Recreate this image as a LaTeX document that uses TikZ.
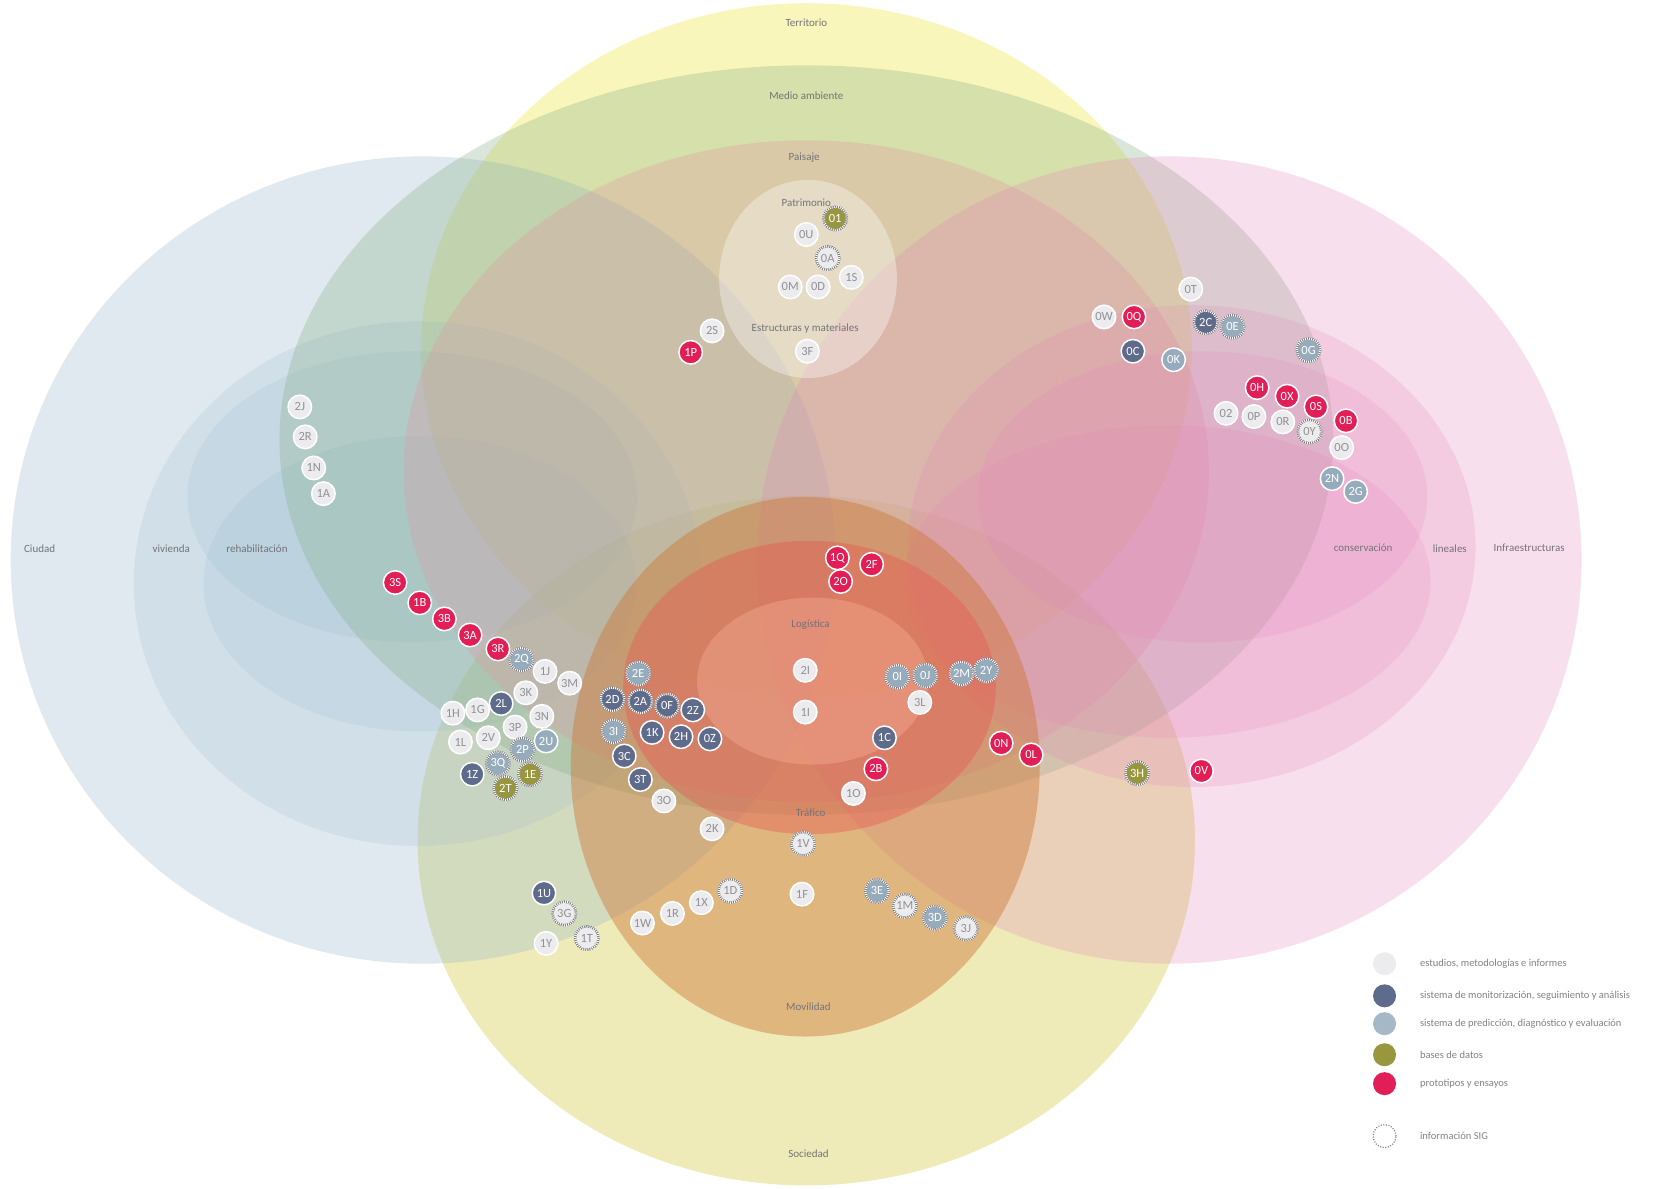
\documentclass[tikz,border=0pt]{standalone}
\usepackage{fontspec}
\setmainfont{Carlito}
\definecolor{terr}{RGB}{245,238,120}
\definecolor{soc}{RGB}{220,215,110}
\definecolor{blu}{RGB}{150,185,205}
\definecolor{pnk}{RGB}{228,130,185}
\definecolor{grn}{RGB}{135,175,135}
\definecolor{pai}{RGB}{225,150,160}
\definecolor{mov}{RGB}{205,120,55}
\definecolor{tra}{RGB}{232,85,80}
\definecolor{log}{RGB}{250,180,155}
\definecolor{lblc}{RGB}{115,115,120}
\definecolor{legc}{RGB}{130,130,135}
\definecolor{cw}{RGB}{236,236,238}
\definecolor{cwt}{RGB}{145,145,150}
\definecolor{cm}{RGB}{95,107,138}
\definecolor{cp}{RGB}{150,172,188}
\definecolor{cd}{RGB}{152,150,62}
\definecolor{cr}{RGB}{226,30,86}
\definecolor{sigring}{RGB}{120,120,125}
\begin{document}
\begin{tikzpicture}[x=1.0708pt,y=-1.0708pt,
  lbl/.style={text=lblc, font=\fontsize{11}{13}\selectfont, inner sep=0pt},
  badge/.style={circle, minimum size=23.5pt, inner sep=0pt, draw=white, line width=1.5pt, font=\fontsize{12.5}{13}\selectfont},
  bw/.style={badge, fill=cw, text=cwt},
  bm/.style={badge, fill=cm, text=white},
  bp/.style={badge, fill=cp, text=white},
  bd/.style={badge, fill=cd, text=white},
  br/.style={badge, fill=cr, text=white},
  sig/.style={draw=sigring, line width=2.3pt, postaction={draw=white, line width=2.3pt, dash pattern=on 0.9pt off 1.2pt}},
  leg/.style={text=legc, font=\fontsize{10.5}{12}\selectfont, anchor=west, inner sep=0pt},
  sw/.style={circle, minimum size=23pt, inner sep=0pt}
]
\fill[white] (0,0) rectangle (1568,1110);
\useasboundingbox (0,0) rectangle (1568,1110);
% background sets
\fill[terr, fill opacity=0.5] (753,327) ellipse [x radius=360, y radius=324];
\fill[soc, fill opacity=0.48] (753,785) ellipse [x radius=363, y radius=322];
\fill[blu, fill opacity=0.3] (395,523) ellipse [x radius=385, y radius=377];
\fill[blu, fill opacity=0.2] (390,545) ellipse [x radius=265, y radius=245];
\fill[blu, fill opacity=0.18] (385,464) ellipse [x radius=210, y radius=136];
\fill[blu, fill opacity=0.18] (392,545) ellipse [x radius=202, y radius=138];
\fill[grn, fill opacity=0.3] (753,411) ellipse [x radius=492, y radius=350];
\fill[pai, fill opacity=0.3] (753,440) ellipse [x radius=376, y radius=309];
\fill[pnk, fill opacity=0.25] (1092,523) ellipse [x radius=385, y radius=377];
\fill[pnk, fill opacity=0.2] (1113,510) ellipse [x radius=265, y radius=225];
\fill[pnk, fill opacity=0.18] (1123,464) ellipse [x radius=210, y radius=136];
\fill[pnk, fill opacity=0.18] (1090,543) ellipse [x radius=246, y radius=146];
\fill[mov, fill opacity=0.45] (752,716) ellipse [x radius=219, y radius=252];
\fill[tra, fill opacity=0.4] (756,642) ellipse [x radius=174, y radius=137];
\fill[log, fill opacity=0.35] (759,636) ellipse [x radius=108, y radius=78];
\fill[white, fill opacity=0.35] (754.6,260.5) ellipse [x radius=83, y radius=92.5];
% set labels
\node[lbl] (lTerritorio) at (753,21) {Territorio};
\node[lbl] (lMedio) at (753,89) {Medio ambiente};
\node[lbl] (lPaisaje) at (751,147) {Paisaje};
\node[lbl] (lPatrimonio) at (753,189) {Patrimonio};
\node[lbl] (lEstructuras) at (752,307) {Estructuras y materiales};
\node[lbl] (lLogistica) at (757,583) {Logística};
\node[lbl] (lTrafico) at (757,759) {Tráfico};
\node[lbl] (lMovilidad) at (755,940) {Movilidad};
\node[lbl] (lSociedad) at (755,1077) {Sociedad};
\node[lbl] (lCiudad) at (37,512) {Ciudad};
\node[lbl] (lVivienda) at (160,512) {vivienda};
\node[lbl] (lRehab) at (240,512) {rehabilitación};
\node[lbl] (lConserv) at (1273,512) {conservación};
\node[lbl] (lLineales) at (1354,512) {lineales};
\node[lbl] (lInfra) at (1428,512) {Infraestructuras};
% Patrimonio cluster
\node[bd,sig] (b01) at (780,204) {01};
\node[bw] (b0U) at (753,219) {0U};
\node[bw,sig] (b0A) at (773,241) {0A};
\node[bw] (b1S) at (795,259) {1S};
\node[bw] (b0M) at (738,268) {0M};
\node[bw] (b0D) at (764,268) {0D};
\node[bw] (b2S) at (665,309) {2S};
\node[br] (b1P) at (645,329) {1P};
\node[bw] (b3F) at (754,328) {3F};
% right top cluster
\node[bw] (b0T) at (1112,270) {0T};
\node[bw] (b0W) at (1031,296) {0W};
\node[br] (b0Q) at (1059,296) {0Q};
\node[bm,sig] (b2C) at (1126,301) {2C};
\node[bp,sig] (b0E) at (1151,305) {0E};
\node[bm] (b0C) at (1058,328) {0C};
\node[bp] (b0K) at (1096,336) {0K};
\node[bp,sig] (b0G) at (1222,327) {0G};
\node[br] (b0H) at (1174,362) {0H};
\node[br] (b0X) at (1202,370) {0X};
\node[br] (b0S) at (1229,380) {0S};
\node[br] (b0B) at (1257,393) {0B};
\node[bw] (b02) at (1145,386) {02};
\node[bw] (b0P) at (1171,389) {0P};
\node[bw] (b0R) at (1198,394) {0R};
\node[bw,sig] (b0Y) at (1223,403) {0Y};
\node[bw] (b0O) at (1253,418) {0O};
\node[bp] (b2N) at (1244,447) {2N};
\node[bp] (b2G) at (1266,459) {2G};
% left
\node[bw] (b2J) at (280,380) {2J};
\node[bw] (b2R) at (285,408) {2R};
\node[bw] (b1N) at (293,437) {1N};
\node[bw] (b1A) at (302,461) {1A};
% left diagonal
\node[br] (b3S) at (369,544) {3S};
\node[br] (b1B) at (392,563) {1B};
\node[br] (b3B) at (415,578) {3B};
\node[br] (b3A) at (439,593) {3A};
\node[br] (b3R) at (465,606) {3R};
\node[bp,sig] (b2Q) at (487,616) {2Q};
\node[bw] (b1J) at (509,627) {1J};
\node[bw] (b3M) at (532,638) {3M};
\node[bw] (b3K) at (491,647) {3K};
\node[bm] (b2L) at (468,657) {2L};
\node[bw] (b1G) at (446,663) {1G};
\node[bw] (b1H) at (423,666) {1H};
\node[bw] (b3N) at (506,669) {3N};
\node[bw] (b3P) at (481,679) {3P};
\node[bw] (b2V) at (456,689) {2V};
\node[bw] (b1L) at (430,693) {1L};
\node[bp] (b2U) at (510,692) {2U};
\node[bp,sig] (b2P) at (488,700) {2P};
\node[bp,sig] (b3Q) at (465,713) {3Q};
\node[bd,sig] (b1E) at (495,723) {1E};
\node[bm] (b1Z) at (441,723) {1Z};
\node[bd,sig] (b2T) at (472,736) {2T};
% centre cluster
\node[bp,sig] (b2E) at (596,629) {2E};
\node[bm,sig] (b2D) at (572,653) {2D};
\node[bm,sig] (b2A) at (598,655) {2A};
\node[bm,sig] (b0F) at (623,659) {0F};
\node[bm] (b2Z) at (647,663) {2Z};
\node[bp,sig] (b3I) at (573,683) {3I};
\node[bm] (b1K) at (609,684) {1K};
\node[bm] (b2H) at (636,688) {2H};
\node[bm] (b0Z) at (663,690) {0Z};
\node[bm] (b3C) at (583,706) {3C};
\node[bm] (b3T) at (598,728) {3T};
\node[bw] (b3O) at (620,748) {3O};
\node[bw] (b2K) at (665,774) {2K};
\node[br] (b1Q) at (782,521) {1Q};
\node[br] (b2F) at (814,527) {2F};
\node[br] (b2O) at (785,543) {2O};
\node[bw] (b2I) at (752,626) {2I};
\node[bw] (b1I) at (752,665) {1I};
\node[bp,sig] (b0I) at (838,632) {0I};
\node[bp,sig] (b0J) at (864,631) {0J};
\node[bp,sig] (b2M) at (898,629) {2M};
\node[bp,sig] (b2Y) at (921,626) {2Y};
\node[bw] (b3L) at (859,656) {3L};
\node[bm] (b1C) at (826,689) {1C};
\node[br] (b2B) at (818,718) {2B};
\node[bw] (b1O) at (797,741) {1O};
\node[br] (b0N) at (935,694) {0N};
\node[br] (b0L) at (963,705) {0L};
\node[bd,sig] (b3H) at (1062,722) {3H};
\node[br] (b0V) at (1122,720) {0V};
\node[bw,sig] (b1V) at (750,788) {1V};
% bottom
\node[bm] (b1U) at (508,834) {1U};
\node[bw,sig] (b3G) at (527,853) {3G};
\node[bw] (b1Y) at (510,881) {1Y};
\node[bw,sig] (b1T) at (548,876) {1T};
\node[bw] (b1W) at (600,862) {1W};
\node[bw] (b1R) at (628,853) {1R};
\node[bw] (b1X) at (655,843) {1X};
\node[bw,sig] (b1D) at (682,832) {1D};
\node[bw] (b1F) at (749,835) {1F};
\node[bp,sig] (b3E) at (819,832) {3E};
\node[bw,sig] (b1M) at (845,846) {1M};
\node[bp,sig] (b3D) at (873,857) {3D};
\node[bw,sig] (b3J) at (902,867) {3J};
% legend
\node[sw, fill=cw] (s1) at (1293,900) {};
\node[sw, fill=cm] (s2) at (1293,930) {};
\node[sw, fill=cp!85!white] (s3) at (1293,956) {};
\node[sw, fill=cd] (s4) at (1293,985) {};
\node[sw, fill=cr] (s5) at (1293,1012) {};
\node[sw, draw=sigring, line width=1.2pt, dash pattern=on 1pt off 1.6pt] (s6) at (1293,1061) {};
\node[leg] (t1) at (1326,900) {estudios, metodologías e informes};
\node[leg] (t2) at (1326,930) {sistema de monitorización, seguimiento y análisis};
\node[leg] (t3) at (1326,956) {sistema de predicción, diagnóstico y evaluación};
\node[leg] (t4) at (1326,985) {bases de datos};
\node[leg] (t5) at (1326,1012) {prototipos y ensayos};
\node[leg] (t6) at (1326,1061) {información SIG};
\end{tikzpicture}
\end{document}
